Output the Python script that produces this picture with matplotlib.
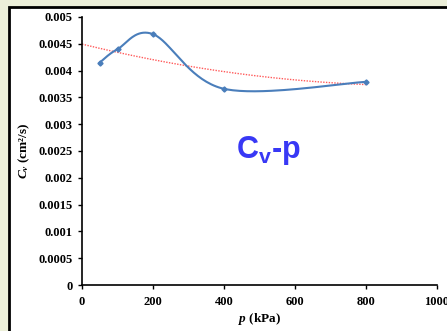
import matplotlib.pyplot as plt
import matplotlib.patches as mpatches
import numpy as np

# data
p_kpa = [50, 100, 200, 400, 800]
cv = [0.00415, 0.0044, 0.00468, 0.00366, 0.00379]

plt.rcParams['mathtext.fontset'] = 'custom'
plt.rcParams['mathtext.rm'] = 'Liberation Sans:bold'
plt.rcParams['mathtext.it'] = 'Liberation Serif:italic:bold'

# Excel-like smoothed line (cubic bezier, tangents from neighbours), done in screen-ish scale
def smooth(xs, ys, sx, sy, n=40):
    P = np.column_stack([np.array(xs) / sx, np.array(ys) / sy])
    out = []
    for i in range(len(P) - 1):
        p0 = P[max(i - 1, 0)]
        p1 = P[i]
        p2 = P[i + 1]
        p3 = P[min(i + 2, len(P) - 1)]
        c1 = p1 + (p2 - p0) / 6.0
        c2 = p2 - (p3 - p1) / 6.0
        t = np.linspace(0, 1, n)[:, None]
        seg = (1 - t) ** 3 * p1 + 3 * (1 - t) ** 2 * t * c1 + 3 * (1 - t) * t ** 2 * c2 + t ** 3 * p2
        out.append(seg)
    out = np.vstack(out)
    return out[:, 0] * sx, out[:, 1] * sy

fig = plt.figure(figsize=(4.47, 3.31), dpi=100)
fig.patch.set_facecolor('#ECEFD9')
# white box with black border
box = mpatches.Rectangle((9 / 447, -0.1), 1.2, (331 - 7) / 331 + 0.1,
                         transform=fig.transFigure, facecolor='white',
                         edgecolor='black', linewidth=2, zorder=-10)
fig.add_artist(box)

ax = fig.add_axes([82 / 447, 46 / 331, 355 / 447, 268 / 331])
ax.set_facecolor('none')

sx_, sy_ = smooth(p_kpa, cv, 1000 / 355, 0.005 / 268)
ax.plot(sx_, sy_, color='#4A7EBB', lw=1.5, zorder=3)
ax.plot(p_kpa, cv, linestyle='none', marker='D', ms=2.6, color='#4A7EBB', zorder=4)

# polynomial (order 2) trendline
coef = np.polyfit(p_kpa, cv, 2)
xt = np.linspace(0, 800, 200)
ax.plot(xt, np.polyval(coef, xt), color='#FF5A5A', lw=1, linestyle=(0, (1, 1)), zorder=2)

ax.set_xlim(0, 1000)
ax.set_ylim(0, 0.005)
ax.set_xticks([0, 200, 400, 600, 800, 1000])
ax.set_yticks(np.arange(0, 0.00501, 0.0005))
ax.set_yticklabels(['0', '0.0005', '0.001', '0.0015', '0.002', '0.0025',
                    '0.003', '0.0035', '0.004', '0.0045', '0.005'])
for s in ['top', 'right']:
    ax.spines[s].set_visible(False)
for s in ['left', 'bottom']:
    ax.spines[s].set_linewidth(1.2)
ax.tick_params(axis='both', direction='out', length=3, width=1, pad=4)
for lab in ax.get_xticklabels() + ax.get_yticklabels():
    lab.set_fontfamily('Liberation Serif')
    lab.set_fontweight('bold')
    lab.set_fontsize(9)
ax.xaxis.set_tick_params(pad=5)

ax.set_xlabel(r'$p$ (kPa)', fontfamily='Liberation Serif', fontweight='bold', fontsize=9.5, labelpad=2)
ax.set_ylabel(r'$C_v$ (cm²/s)', fontfamily='Liberation Serif', fontweight='bold', fontsize=9.5, labelpad=4)

ax.text(0.525, 0.5, r'$\mathrm{C_v}$-p', transform=ax.transAxes, color='#3838F5',
        fontfamily='Liberation Sans', fontweight='bold', fontsize=22, ha='center', va='center')

fig.savefig('out.png', dpi=100, facecolor=fig.get_facecolor())
